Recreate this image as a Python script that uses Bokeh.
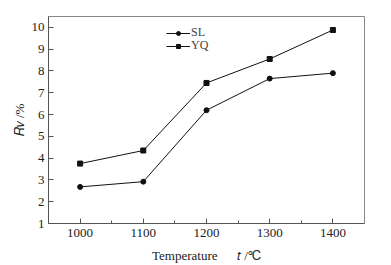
import math
from bokeh.plotting import figure
from bokeh.models import FixedTicker, Range1d, Legend, LegendItem
from bokeh.embed import file_html
from bokeh.resources import INLINE

temps = [1000, 1100, 1200, 1300, 1400]
sl = [2.68, 2.92, 6.2, 7.65, 7.9]
yq = [3.75, 4.35, 7.45, 8.55, 9.88]
x_ticks = [1000, 1100, 1200, 1300, 1400]
y_ticks = [1, 2, 3, 4, 5, 6, 7, 8, 9, 10]
x_title = "Temperature\u2003\u2002\U0001D461 /\u2103"
y_title = "\U0001D445\U0001D463 /%"

FONT = "Liberation Serif"
p = figure(width=391, height=265, output_backend="svg", toolbar_location=None,
           x_range=Range1d(950, 1450), y_range=Range1d(1, 10.5),
           min_border_left=48, min_border_right=27, min_border_top=16, min_border_bottom=41)
p.background_fill_color = "white"
p.border_fill_color = "white"
p.outline_line_color = "#888888"
p.grid.visible = False

for ax in (p.xaxis[0], p.yaxis[0]):
    ax.major_label_text_font = FONT
    ax.major_label_text_font_size = "13px"
    ax.major_label_text_color = "#222222"
    ax.axis_label_text_font = FONT
    ax.axis_label_text_font_size = "13px"
    ax.axis_label_text_font_style = "normal"
    ax.axis_label_text_color = "#222222"
    ax.axis_line_color = "#555555"
    ax.major_tick_line_color = "#555555"
    ax.major_tick_in = 5
    ax.major_tick_out = 0
    ax.minor_tick_in = 3
    ax.minor_tick_out = 0
    ax.minor_tick_line_color = "#555555"
p.xaxis[0].ticker = FixedTicker(ticks=x_ticks, minor_ticks=[1050, 1150, 1250, 1350])
p.yaxis[0].ticker = FixedTicker(ticks=y_ticks, minor_ticks=[])
p.xaxis[0].major_label_standoff = 5
p.yaxis[0].major_label_standoff = 4
p.xaxis[0].axis_label = x_title
p.yaxis[0].axis_label = y_title
p.xaxis[0].axis_label_standoff = 8
p.yaxis[0].axis_label_standoff = 2

r1 = p.line(temps, sl, line_color="#111111", line_width=1)
m1 = p.scatter(temps, sl, marker="circle", size=5, fill_color="#111111", line_color="#111111")
r2 = p.line(temps, yq, line_color="#111111", line_width=1)
m2 = p.scatter(temps, yq, marker="square", size=5, fill_color="#111111", line_color="#111111")

def make_legend(label, renderers, loc):
    lg = Legend(items=[LegendItem(label=label, renderers=renderers)],
                location=loc, border_line_alpha=0, background_fill_alpha=0,
                label_text_font=FONT, label_text_font_size="12px",
                glyph_width=24, glyph_height=10, spacing=0, padding=0, margin=0,
                label_standoff=1, label_height=10)
    p.add_layout(lg, "center")

make_legend("SL", [r1, m1], (118, 183))
make_legend("YQ", [r2, m2], (118, 170))

open("out.html", "w").write(file_html(p, INLINE))
